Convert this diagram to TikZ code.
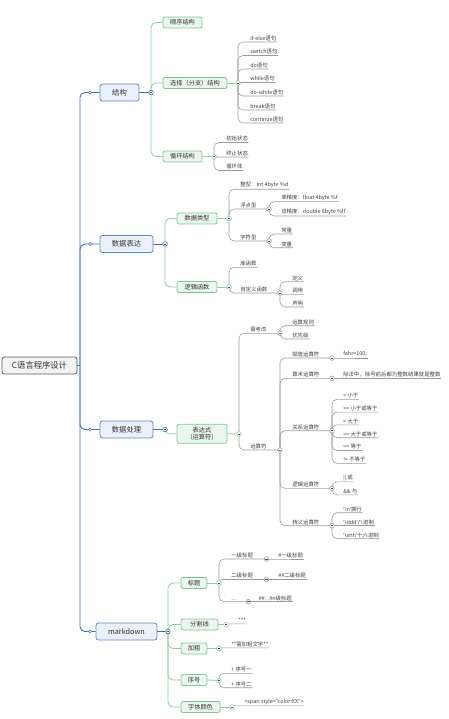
\documentclass[tikz,border=0pt]{standalone}
\usepackage{fontspec}
\setmainfont{Noto Sans CJK SC}
\newfontfamily\latf{Noto Sans}[Ligatures=TeXOff]
\definecolor{cBlue}{HTML}{3F72B8}
\definecolor{cBlueB}{HTML}{5A8AC9}
\definecolor{cBlueF}{HTML}{EAF1FA}
\definecolor{cGreenL}{HTML}{8DCFA4}
\definecolor{cGreenB}{HTML}{7CC596}
\definecolor{cGreenF}{HTML}{EAF6EE}
\definecolor{cGrey}{HTML}{9B9B9B}
\definecolor{cRootB}{HTML}{5A5A5A}
\definecolor{cRootF}{HTML}{F3F3F3}
\newcommand\elb[4]{%
  \path (#2) coordinate (tmpa);%
  \path (#3) coordinate (tmpb);%
  \pgfpointanchor{tmpa}{center}\pgfgetlastxy{\elax}{\elay}%
  \pgfpointanchor{tmpb}{center}\pgfgetlastxy{\elbx}{\elby}%
  \pgfmathsetmacro\elr{min(5,abs(\elay-\elby)*0.95)}%
  \draw[#1, rounded corners=\elr pt] (tmpa) |- (tmpb) #4;%
}
\newcommand\sq{{\latf\char"27}}
\tikzset{
  lnb/.style={draw=cBlue, line width=0.9pt},
  lng/.style={draw=cGreenL, line width=0.8pt},
  lnr/.style={draw=cGrey, line width=0.6pt},
  rootbox/.style={draw=cRootB, fill=cRootF, line width=0.7pt, rounded corners=2.5pt, minimum width=75pt, minimum height=17pt, inner sep=0pt, font=\fontsize{8.3}{10}\selectfont, text=black!80},
  onebox/.style={draw=cBlueB, fill=cBlueF, line width=0.8pt, rounded corners=2.5pt, minimum height=17pt, inner sep=0pt, font=\fontsize{7.3}{9}\selectfont, text=black!80},
  twobox/.style={draw=cGreenB, fill=cGreenF, line width=0.7pt, rounded corners=2pt, minimum height=11pt, inner sep=0pt, font=\fontsize{6.2}{7.5}\selectfont, text=black!80},
  leaf/.style={anchor=south west, inner xsep=0.6pt, inner ysep=0.9pt, font=\fontsize{5.4}{6}\selectfont, text=black!75},
  cc/.style={circle, draw=#1, fill=white, line width=0.6pt, minimum size=4.6pt, inner sep=0pt, path picture={\draw[black!70, line width=0.5pt] ([xshift=-1.3pt]path picture bounding box.center) -- ([xshift=1.3pt]path picture bounding box.center);}},
  dotc/.style={circle, draw=cBlue, fill=white, line width=0.6pt, minimum size=3pt, inner sep=0pt}
}
\begin{document}
\begin{tikzpicture}[x=1pt,y=-1pt]
\useasboundingbox (0,0) rectangle (449,719);
% root and level 1
\node[rootbox] (root) at (39.5,365.5) {C语言程序设计};
\node[onebox, minimum width=39pt] (b1) at (119.5,92.5) {结构};
\node[onebox, minimum width=53pt] (b2) at (126.5,244) {数据表达};
\node[onebox, minimum width=53pt] (b3) at (126.5,429.5) {数据处理};
\node[onebox, minimum width=61pt] (b4) at (126.5,631.5) {markdown};
\coordinate (rj) at (80,365.5);
\coordinate (cb1) at (151,92.5);
\coordinate (cb2) at (165,244);
\coordinate (cb3) at (165,429.5);
\coordinate (cb4) at (168,631.5);
% level 2
\node[twobox, minimum width=39pt] (g11) at (182.5,22.5) {顺序结构};
\node[twobox, minimum width=64pt] (g12) at (195,83) {选择（分支）结构};
\node[twobox, minimum width=39pt] (g13) at (182.5,156.5) {循环结构};
\node[twobox, minimum width=40pt] (g21) at (197,218.5) {数据类型};
\node[twobox, minimum width=40pt] (g22) at (197,287) {逻辑函数};
\node[twobox, minimum width=50pt, minimum height=19pt, align=center] (g31) at (202,433.8) {表达式\\（运算符）};
\node[twobox, minimum width=26pt] (g41) at (194,583) {标题};
\node[twobox, minimum width=37pt] (g42) at (199.5,624.5) {分割线};
\node[twobox, minimum width=26pt] (g43) at (194,648.5) {加粗};
\node[twobox, minimum width=26pt] (g44) at (194,680) {序号};
\node[twobox, minimum width=39pt] (g45) at (200.5,707) {字体颜色};
\coordinate (c12) at (238,83);
\coordinate (c13) at (214,156.5);
\coordinate (c21) at (229,218.5);
\coordinate (c22) at (229,287);
\coordinate (c31) at (239,434);
\coordinate (c41) at (219,583);
\coordinate (c42) at (226,624.5);
\coordinate (c43) at (219,648.5);
\coordinate (c44) at (219,680.5);
\coordinate (c45) at (232,707);
% leaves: structure
\node[leaf] (s1) at (249.5,42) {if-else语句};
\node[leaf] (s2) at (249.5,55.5) {switch语句};
\node[leaf] (s3) at (249.5,69) {do语句};
\node[leaf] (s4) at (249.5,82.5) {while语句};
\node[leaf] (s5) at (249.5,96) {do-while语句};
\node[leaf] (s6) at (249.5,110) {break语句};
\node[leaf] (s7) at (249.5,123) {continue语句};
\node[leaf] (x1) at (225.5,142.5) {初始状态};
\node[leaf] (x2) at (225.5,157) {终止状态};
\node[leaf] (x3) at (225.5,170.5) {循环体};
% data expression
\node[leaf] (t1) at (239.5,189.3) {整型：int 4byte \%d};
\node[leaf] (t2) at (239.5,209) {浮点型};
\node[leaf] (t3) at (239.5,241) {字符型};
\coordinate (c211) at (269,209);
\coordinate (c212) at (269,241);
\node[leaf] (t21) at (280.5,201.7) {单精度：float 4byte \%f};
\node[leaf] (t22) at (280.5,216) {双精度：double 8byte \%lf};
\node[leaf] (t31) at (280.5,234) {常量};
\node[leaf] (t32) at (280.5,247.7) {变量};
\node[leaf] (f1) at (239.5,267.3) {库函数};
\node[leaf] (f2) at (239.5,293) {自定义函数};
\coordinate (c222) at (280,293);
\node[leaf] (f21) at (291.5,281.7) {定义};
\node[leaf] (f22) at (291.5,294.3) {调用};
\node[leaf] (f23) at (291.5,307) {声明};
% data processing
\node[leaf] (e1) at (249.5,333.3) {需考虑};
\node[leaf] (e2) at (249.5,450) {运算符};
\coordinate (c311) at (280,333.3);
\coordinate (c312) at (280,450);
\node[leaf] (e11) at (291.5,325.7) {运算规则};
\node[leaf] (e12) at (291.5,339) {优先级};
\node[leaf] (o1) at (291.5,358) {赋值运算符};
\node[leaf] (o2) at (291.5,378.3) {算术运算符};
\node[leaf] (o3) at (291.5,430.7) {关系运算符};
\node[leaf] (o4) at (291.5,488.3) {逻辑运算符};
\node[leaf] (o5) at (291.5,525.7) {转义运算符};
\coordinate (co1) at (332,358);
\coordinate (co2) at (332,378.3);
\coordinate (co3) at (332,430.7);
\coordinate (co4) at (332,488.3);
\coordinate (co5) at (332,525.7);
\node[leaf] (o11) at (342.5,358) {fahr=100;};
\node[leaf] (o21) at (342.5,378.3) {除法中，除号前后都为整数结果就是整数};
\node[leaf] (o31) at (342.5,399.3) {< 小于};
\node[leaf] (o32) at (342.5,412.1) {<= 小于或等于};
\node[leaf] (o33) at (342.5,424.9) {> 大于};
\node[leaf] (o34) at (342.5,437.7) {>= 大于或等于};
\node[leaf] (o35) at (342.5,450.5) {== 等于};
\node[leaf] (o36) at (342.5,463.3) {!= 不等于};
\node[leaf] (o41) at (342.5,481.8) {|| 或};
\node[leaf] (o42) at (342.5,494.8) {\&\& 与};
\node[leaf] (o51) at (342.5,512.7) {{\latf\char"27\textbackslash n\char"27}换行};
\node[leaf] (o52) at (342.5,525.7) {{\latf\char"27\textbackslash ddd\char"27}八进制};
\node[leaf] (o53) at (342.5,538.7) {{\latf\char"27\textbackslash xhh\char"27}十六进制};
% markdown
\node[leaf] (m1) at (230.5,559) {一级标题};
\node[leaf] (m2) at (230.5,579.5) {二级标题};
\node[leaf] (m3) at (230.5,601.7) {...};
\coordinate (cm1) at (266.5,559);
\coordinate (cm2) at (266.5,579.5);
\coordinate (cm3) at (248.3,601.7);
\node[leaf] (m11) at (277.5,559) {\#一级标题};
\node[leaf] (m21) at (277.5,579.5) {\#\#二级标题};
\node[leaf] (m31) at (258,601.7) {\#\#...\#n级标题};
\node[leaf] (m41) at (237.5,623.8) {***};
\node[leaf] (m51) at (230.5,647.8) {**需加粗文字**};
\node[leaf] (m61) at (230.5,673.3) {+ 序号一};
\node[leaf] (m62) at (230.5,687.7) {+ 序号二};
\node[leaf] (m71) at (243.5,705.8) {{\latf <span style=\char"22 color:XX\char"22>}};
% connectors level 1
\draw[lnb] (root.east) -- (rj);
\elb{lnb}{rj}{b1.west}{}
\elb{lnb}{rj}{b2.west}{}
\elb{lnb}{rj}{b3.west}{}
\elb{lnb}{rj}{b4.west}{}
\draw[lnb] (b1.east) -- (cb1);
\draw[lnb] (b2.east) -- (cb2);
\draw[lnb] (b3.east) -- (cb3);
\draw[lnb] (b4.east) -- (cb4);
% connectors level 2
\elb{lng}{cb1}{g11.west}{}
\elb{lng}{cb1}{g12.west}{}
\elb{lng}{cb1}{g13.west}{}
\elb{lng}{cb2}{g21.west}{}
\elb{lng}{cb2}{g22.west}{}
\elb{lng}{cb3}{g31.west}{}
\elb{lng}{cb4}{g41.west}{}
\elb{lng}{cb4}{g42.west}{}
\elb{lng}{cb4}{g43.west}{}
\elb{lng}{cb4}{g44.west}{}
\elb{lng}{cb4}{g45.west}{}
\draw[lng] (g12.east) -- (c12);
\draw[lng] (g13.east) -- (c13);
\draw[lng] (g21.east) -- (c21);
\draw[lng] (g22.east) -- (c22);
\draw[lng] (g31.east) -- (c31);
\draw[lng] (g41.east) -- (c41);
\draw[lng] (g42.east) -- (c42);
\draw[lng] (g43.east) -- (c43);
\draw[lng] (g44.east) -- (c44);
\draw[lng] (g45.east) -- (c45);
% leaf connectors
\foreach \n in {s1,s2,s3,s4,s5,s6,s7}{\elb{lnr}{c12}{\n.south west}{-- (\n.south east)}}
\foreach \n in {x1,x2,x3}{\elb{lnr}{c13}{\n.south west}{-- (\n.south east)}}
\elb{lnr}{c21}{t1.south west}{-- (t1.south east)}
\elb{lnr}{c21}{t2.south west}{-- (c211)}
\elb{lnr}{c21}{t3.south west}{-- (c212)}
\foreach \n in {t21,t22}{\elb{lnr}{c211}{\n.south west}{-- (\n.south east)}}
\foreach \n in {t31,t32}{\elb{lnr}{c212}{\n.south west}{-- (\n.south east)}}
\elb{lnr}{c22}{f1.south west}{-- (f1.south east)}
\elb{lnr}{c22}{f2.south west}{-- (c222)}
\foreach \n in {f21,f22,f23}{\elb{lnr}{c222}{\n.south west}{-- (\n.south east)}}
\elb{lnr}{c31}{e1.south west}{-- (c311)}
\elb{lnr}{c31}{e2.south west}{-- (c312)}
\foreach \n in {e11,e12}{\elb{lnr}{c311}{\n.south west}{-- (\n.south east)}}
\elb{lnr}{c312}{o1.south west}{-- (co1)}
\elb{lnr}{c312}{o2.south west}{-- (co2)}
\elb{lnr}{c312}{o3.south west}{-- (co3)}
\elb{lnr}{c312}{o4.south west}{-- (co4)}
\elb{lnr}{c312}{o5.south west}{-- (co5)}
\elb{lnr}{co1}{o11.south west}{-- (o11.south east)}
\elb{lnr}{co2}{o21.south west}{-- (o21.south east)}
\foreach \n in {o31,o32,o33,o34,o35,o36}{\elb{lnr}{co3}{\n.south west}{-- (\n.south east)}}
\foreach \n in {o41,o42}{\elb{lnr}{co4}{\n.south west}{-- (\n.south east)}}
\foreach \n in {o51,o52,o53}{\elb{lnr}{co5}{\n.south west}{-- (\n.south east)}}
\elb{lnr}{c41}{m1.south west}{-- (cm1)}
\elb{lnr}{c41}{m2.south west}{-- (cm2)}
\elb{lnr}{c41}{m3.south west}{-- (cm3)}
\elb{lnr}{cm1}{m11.south west}{-- (m11.south east)}
\elb{lnr}{cm2}{m21.south west}{-- (m21.south east)}
\elb{lnr}{cm3}{m31.south west}{-- (m31.south east)}
\elb{lnr}{c42}{m41.south west}{-- (m41.south east)}
\elb{lnr}{c43}{m51.south west}{-- (m51.south east)}
\elb{lnr}{c44}{m61.south west}{-- (m61.south east)}
\elb{lnr}{c44}{m62.south west}{-- (m62.south east)}
\elb{lnr}{c45}{m71.south west}{-- (m71.south east)}
% dots and collapse circles
\node[dotc] (d1) at (90,92.5) {};
\node[dotc] (d2) at (90,244) {};
\node[dotc] (d3) at (90,429.5) {};
\node[dotc] (d4) at (90,631.5) {};
\foreach \c in {cb1,cb2,cb3,cb4}{\node[cc=cBlue] (k\c) at (\c) {};}
\foreach \c in {c12,c13,c21,c22,c31,c41,c42,c43,c44,c45}{\node[cc=cGreenL] (k\c) at (\c) {};}
\foreach \c in {c211,c212,c222,c311,c312,co1,co2,co3,co4,co5,cm1,cm2,cm3}{\node[cc=cGrey] (k\c) at (\c) {};}
\end{tikzpicture}
\end{document}
